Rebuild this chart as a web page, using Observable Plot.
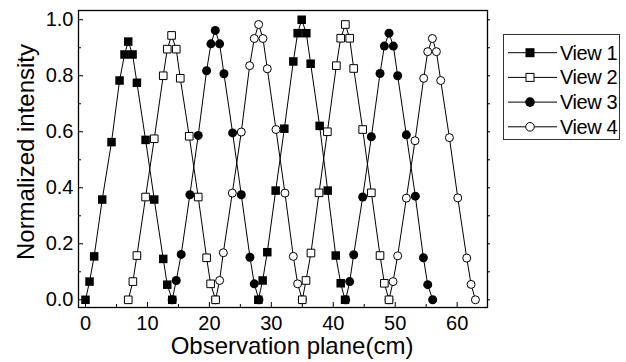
<!DOCTYPE html>
<html><head><meta charset="utf-8">
<script src="https://cdn.jsdelivr.net/npm/d3@7"></script>
<script src="https://cdn.jsdelivr.net/npm/@observablehq/plot@0.6"></script>
<style>
body{margin:0;background:#fff;}
#chart{position:relative;width:626px;height:362px;font-family:"Liberation Sans",Arial,sans-serif;}
#legend{position:absolute;left:503px;top:34px;}
</style></head><body><div id="chart"></div>
<script>
const seriesNames = ["View 1", "View 2", "View 3", "View 4"];
// each view: two scans of 15 points (x in cm, normalized intensity)
const view1X = [0, 0.65, 1.4, 2.7, 4.2, 5.5, 6.3, 6.9, 7.6, 8.3, 9.7, 11.1, 12.55, 13.2, 14.0,
                27.9, 28.6, 29.35, 30.7, 32.1, 33.55, 34.25, 34.9, 35.65, 36.35, 37.8, 39.1, 40.4, 41.2, 41.9];
const view1Y = [0, 0.065, 0.155, 0.358, 0.563, 0.783, 0.876, 0.922, 0.876, 0.775, 0.571, 0.358, 0.146, 0.054, 0,
                0, 0.069, 0.17, 0.39, 0.611, 0.851, 0.952, 1.0, 0.952, 0.843, 0.621, 0.39, 0.158, 0.059, 0];
const view2X = [6.9, 7.65, 8.3, 9.7, 11.1, 12.55, 13.2, 13.9, 14.65, 15.3, 16.75, 18.2, 19.55, 20.2, 21.0,
                35.0, 35.6, 36.4, 37.7, 39.05, 40.5, 41.2, 41.95, 42.65, 43.3, 44.75, 46.15, 47.55, 48.25, 49.0];
const view2Y = [0, 0.065, 0.158, 0.367, 0.575, 0.8, 0.895, 0.944, 0.895, 0.791, 0.584, 0.367, 0.15, 0.057, 0,
                0, 0.069, 0.167, 0.382, 0.6, 0.836, 0.934, 0.983, 0.934, 0.826, 0.608, 0.382, 0.158, 0.059, 0];
const view3X = [14.0, 14.65, 15.45, 16.85, 18.2, 19.55, 20.25, 20.95, 21.65, 22.35, 23.75, 25.15, 26.55, 27.25, 28.0,
                42.0, 42.65, 43.3, 44.75, 46.15, 47.55, 48.25, 49.0, 49.7, 50.4, 51.8, 53.25, 54.55, 55.25, 56.05];
const view3Y = [0, 0.069, 0.162, 0.375, 0.587, 0.818, 0.914, 0.962, 0.914, 0.807, 0.596, 0.375, 0.152, 0.057, 0,
                0, 0.065, 0.161, 0.367, 0.582, 0.808, 0.906, 0.952, 0.906, 0.8, 0.589, 0.37, 0.15, 0.054, 0];
const view4X = [21.0, 21.65, 22.25, 23.7, 25.15, 26.5, 27.25, 27.95, 28.65, 29.35, 30.75, 32.2, 33.55, 34.25, 35.0,
                49.0, 49.65, 50.4, 51.8, 53.2, 54.6, 55.25, 56.0, 56.65, 57.35, 58.75, 60.1, 61.55, 62.25, 62.95];
const view4Y = [0, 0.069, 0.168, 0.381, 0.599, 0.836, 0.933, 0.983, 0.933, 0.825, 0.608, 0.381, 0.155, 0.057, 0,
                0, 0.065, 0.157, 0.363, 0.568, 0.791, 0.886, 0.933, 0.886, 0.783, 0.579, 0.364, 0.149, 0.055, 0];
const pointsPerScan = 15;

const xMajorTicks = [0, 10, 20, 30, 40, 50, 60];
const xMinorTicks = [5, 15, 25, 35, 45, 55];
const yMajorTicks = [0, 0.2, 0.4, 0.6, 0.8, 1.0];
const yMinorTicks = [0.1, 0.3, 0.5, 0.7, 0.9];
const xLabel = "Observation plane(cm)";
const yLabel = "Normalized intensity";

const styles = {
  "View 1": {symbol: "square", fill: "black", open: false},
  "View 2": {symbol: "square", fill: "white", open: true},
  "View 3": {symbol: "circle", fill: "black", open: false},
  "View 4": {symbol: "circle", fill: "white", open: true}
};

const allX = [view1X, view2X, view3X, view4X];
const allY = [view1Y, view2Y, view3Y, view4Y];
const rows = [];
allX.forEach((xs, i) => xs.forEach((x, j) => rows.push({
  series: seriesNames[i], scan: seriesNames[i] + "-" + Math.floor(j / pointsPerScan), x, y: allY[i][j]
})));

function dotR(s) {
  const st = styles[s];
  if (st.symbol === "square") return st.open ? 4.3 : 4.8;
  return st.open ? 4.0 : 4.5;
}

const drawOrder = seriesNames.slice().reverse();
const dotMarks = drawOrder.map(s => Plot.dot(rows.filter(d => d.series === s), {
  x: "x", y: "y", symbol: () => styles[s].symbol, r: dotR(s),
  fill: styles[s].fill, stroke: styles[s].open ? "black" : "none", strokeWidth: 1
}));

const font = '"Liberation Sans", Arial, sans-serif';
const chart = Plot.plot({
  width: 626, height: 362,
  marginLeft: 78, marginRight: 139, marginTop: 10, marginBottom: 55,
  x: {domain: [-1.13, 64.9]},
  y: {domain: [-0.0275, 1.033]},
  symbol: {type: "identity"},
  style: {fontFamily: font, fontSize: "20px", color: "black", background: "white", overflow: "visible"},
  marks: [
    Plot.line(rows, {x: "x", y: "y", z: "scan", stroke: "black", strokeWidth: 1}),
    ...dotMarks,
    Plot.frame({stroke: "black", strokeWidth: 1.3}),
    Plot.axisX({ticks: xMajorTicks, tickSize: 0, tickPadding: 8, tickFormat: d => String(d), label: null, fontSize: 20}),
    Plot.axisX({ticks: xMajorTicks, tickSize: -5, text: null, label: null}),
    Plot.axisX({ticks: xMinorTicks, tickSize: -3, text: null, label: null}),
    Plot.axisY({ticks: yMajorTicks, tickSize: 0, tickPadding: 5, tickFormat: d3.format(".1f"), label: null, fontSize: 20}),
    Plot.axisY({ticks: yMajorTicks, tickSize: -5, text: null, label: null}),
    Plot.axisY({ticks: yMinorTicks, tickSize: -3, text: null, label: null}),
    Plot.axisY({anchor: "right", ticks: yMajorTicks.concat(yMinorTicks), tickSize: 2, text: null, label: null}),
    Plot.text([xLabel], {text: d => d, frameAnchor: "bottom", textAnchor: "middle", dx: 9, dy: 39, lineAnchor: "middle", fontSize: 24, fill: "black"}),
    Plot.text([yLabel], {text: d => d, frameAnchor: "left", textAnchor: "middle", rotate: -90, dx: -52, dy: -7, lineAnchor: "middle", fontSize: 24, fill: "black", letterSpacing: "-0.6px"})
  ]
});
document.getElementById("chart").appendChild(chart);

// legend
const lw = 116, lh = 105, rowH = 24.7, row0 = 18.7;
const leg = d3.select("#chart").append("svg").attr("id", "legend")
  .attr("width", lw + 2).attr("height", lh + 2);
leg.append("rect").attr("x", 0.5).attr("y", 0.5).attr("width", lw).attr("height", lh)
  .attr("fill", "white").attr("stroke", "#333").attr("stroke-width", 1);
seriesNames.forEach((s, i) => {
  const cy = row0 + i * rowH;
  const g = leg.append("g").attr("transform", `translate(0,${cy})`);
  g.append("line").attr("x1", 5).attr("x2", 54).attr("y1", 0).attr("y2", 0).attr("stroke", "black").attr("stroke-width", 1);
  const st = styles[s];
  if (st.symbol === "square") {
    const a = st.open ? 8 : 9;
    g.append("rect").attr("x", 27 - a / 2).attr("y", -a / 2).attr("width", a).attr("height", a)
      .attr("fill", st.fill).attr("stroke", st.open ? "black" : "none");
  } else {
    g.append("circle").attr("cx", 27).attr("cy", 0).attr("r", st.open ? 4.3 : 4.8)
      .attr("fill", st.fill).attr("stroke", st.open ? "black" : "none");
  }
  g.append("text").attr("x", 57).attr("y", 7).attr("font-size", 20).attr("font-family", font)
    .attr("fill", "black").attr("letter-spacing", "-0.4px").text(s);
});
</script></body></html>
